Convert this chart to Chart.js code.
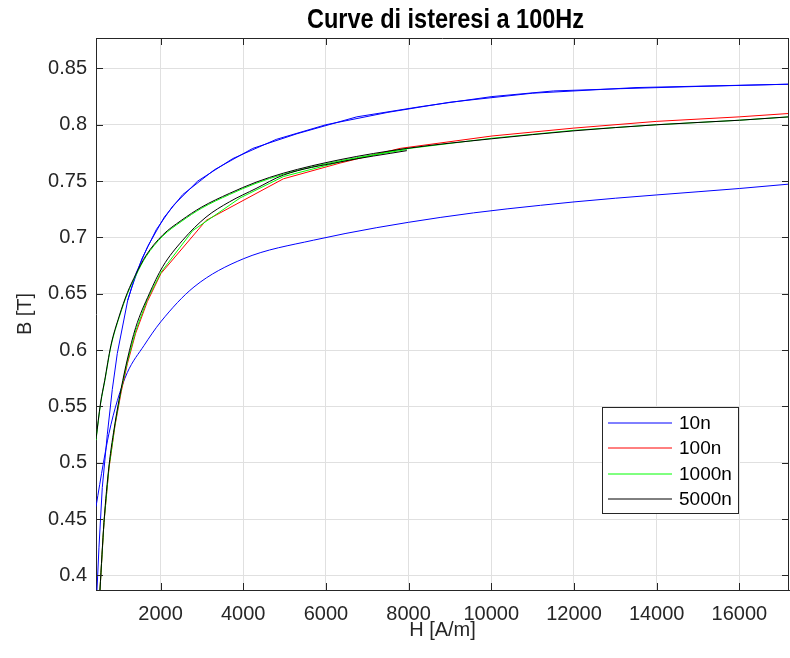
<!DOCTYPE html>
<html>
<head>
<meta charset="utf-8">
<title>Curve di isteresi a 100Hz</title>
<script src="https://cdn.jsdelivr.net/npm/chart.js@4/dist/chart.umd.min.js"></script>
<style>
  html, body { margin: 0; padding: 0; background: #fff; }
  #wrap { width: 790px; height: 658px; }
</style>
</head>
<body>
<div id="wrap"><canvas id="myChart" width="790" height="658"></canvas></div>
<script>
// H [A/m] and B [T], one pair of arrays per curve
var h10Up = [430, 512, 592, 713, 834, 955, 1206, 1407, 1690, 2092, 2537, 3302, 4231, 5300, 6747, 8279, 10014, 11504, 13118, 15000, 17200];
var b10Up = [0.36, 0.425, 0.478, 0.525, 0.565, 0.597, 0.644, 0.668, 0.692, 0.718, 0.738, 0.760, 0.779, 0.792, 0.807, 0.816, 0.825, 0.830, 0.832, 0.834, 0.836];
var h10Up2 = [1206, 1300, 1550, 1900, 2300, 2900, 3750, 4800, 6000, 7500, 9000, 11000, 13500, 17200];
var b10Up2 = [0.644, 0.655, 0.681, 0.707, 0.728, 0.750, 0.770, 0.787, 0.800, 0.811, 0.820, 0.828, 0.833, 0.836];
var h10Lo = [440, 620, 754, 955, 1197, 1601, 2005, 2810, 4003, 5697, 8763, 12000, 14000, 16000, 17200];
var b10Lo = [0.461, 0.500, 0.526, 0.555, 0.580, 0.604, 0.625, 0.656, 0.681, 0.6975, 0.7177, 0.7315, 0.7377, 0.7434, 0.7473];

var h100 = [495, 536, 633, 754, 900, 1050, 1200, 1400, 1681, 2012, 3101, 4971, 6343, 7795, 10014, 11988, 14000, 16000, 17200];
var b100 = [0.36, 0.387, 0.447, 0.495, 0.533, 0.563, 0.588, 0.615, 0.643, 0.668, 0.715, 0.752, 0.766, 0.779, 0.790, 0.797, 0.803, 0.807, 0.810];

var h1000Lo = [495, 536, 633, 754, 900, 1050, 1200, 1400, 1681, 2012, 2779, 3924, 4971, 6343, 7795, 10014, 11988, 14000, 16000, 17200];
var b1000Lo = [0.36, 0.387, 0.447, 0.496, 0.534, 0.565, 0.590, 0.617, 0.645, 0.669, 0.706, 0.735, 0.754, 0.767, 0.778, 0.788, 0.795, 0.800, 0.804, 0.807];
var h1000Up = [440, 550, 650, 800, 1000, 1200, 1400, 1650, 2050, 2500, 3000, 3665, 4311, 4971, 6343, 7957];
var b1000Up = [0.520, 0.552, 0.572, 0.603, 0.629, 0.650, 0.666, 0.683, 0.701, 0.714, 0.726, 0.738, 0.748, 0.756, 0.768, 0.778];

var h5000Up = [440, 550, 650, 800, 1000, 1200, 1400, 1650, 2050, 2500, 3000, 3665, 4311, 4971, 6343, 7957, 10000, 12000, 14000, 16000, 17200];
var b5000Up = [0.521, 0.553, 0.573, 0.604, 0.630, 0.651, 0.667, 0.684, 0.702, 0.715, 0.727, 0.739, 0.749, 0.757, 0.769, 0.779, 0.7875, 0.7946, 0.800, 0.804, 0.807];
var h5000Lo = [495, 536, 633, 754, 900, 1050, 1200, 1400, 1729, 2053, 2537, 3101, 3665, 4311, 4971, 6343, 7957];
var b5000Lo = [0.36, 0.387, 0.447, 0.497, 0.535, 0.566, 0.592, 0.620, 0.650, 0.674, 0.6975, 0.718, 0.7315, 0.7434, 0.7553, 0.767, 0.777];

var xTicks = [2000, 4000, 6000, 8000, 10000, 12000, 14000, 16000];
var yTicks = [0.4, 0.45, 0.5, 0.55, 0.6, 0.65, 0.7, 0.75, 0.8, 0.85];
var legendNames = ["10n", "100n", "1000n", "5000n"];
var legendColors = ["#0000ff", "#ff0000", "#00ff00", "#000000"];
var titleText = "Curve di isteresi a 100Hz";

function pts(h, b) {
    return h.map(function(v, i) { return { x: v, y: b[i] }; });
}

function curve(k, h, b, smooth) {
    return {
        label: legendNames[k],
        data: pts(h, b),
        showLine: true,
        borderColor: legendColors[k],
        backgroundColor: legendColors[k],
        borderWidth: 1,
        pointRadius: 0,
        tension: smooth ? 0.4 : 0,
        cubicInterpolationMode: smooth ? "monotone" : "default",
        order: 4 - k
    };
}

var axisColor = "#262626";
var gridColor = "#e0e0e0";
var fontFam = "'Liberation Sans', Arial, Helvetica, sans-serif";

// title, box, inner ticks and legend drawn like matlab does
var boxPlugin = {
    id: "boxPlugin",
    afterDatasetsDraw: function(chart) {
        var c = chart.ctx, a = chart.chartArea;
        var x = chart.scales.x, y = chart.scales.y;
        c.save();
        c.strokeStyle = axisColor;
        c.lineWidth = 1;
        c.beginPath();
        c.moveTo(a.left, a.top + 0.5); c.lineTo(a.right, a.top + 0.5);
        c.moveTo(a.right - 0.5, a.top); c.lineTo(a.right - 0.5, a.bottom);
        xTicks.forEach(function(v) {
            var p = Math.round(x.getPixelForValue(v)) + 0.5;
            c.moveTo(p, a.bottom); c.lineTo(p, a.bottom - 7);
            c.moveTo(p, a.top); c.lineTo(p, a.top + 7);
        });
        yTicks.forEach(function(v) {
            var p = Math.round(y.getPixelForValue(v)) + 0.5;
            c.moveTo(a.left, p); c.lineTo(a.left + 7, p);
            c.moveTo(a.right, p); c.lineTo(a.right - 7, p);
        });
        c.stroke();

        // legend
        var bx = a.right - 187, by = a.bottom - 183, bw = 136, bh = 106;
        c.fillStyle = "#fff";
        c.fillRect(bx, by, bw, bh);
        c.strokeRect(bx + 0.5, by + 0.5, bw, bh);
        c.font = "19px " + fontFam;
        c.textBaseline = "middle";
        c.textAlign = "left";
        legendNames.forEach(function(name, i) {
            var ry = Math.round(by + 15.5 + i * 25.6);
            c.beginPath();
            c.strokeStyle = legendColors[i];
            c.moveTo(bx + 6, ry); c.lineTo(bx + 70, ry);
            c.stroke();
            c.fillStyle = "#000";
            c.fillText(name, bx + 77, ry + 1);
        });

        // title, squeezed a bit like the narrow helvetica of the original
        c.font = "bold 28px " + fontFam;
        c.fillStyle = "#000";
        c.textAlign = "center";
        c.textBaseline = "alphabetic";
        c.translate((a.left + a.right) / 2 + 3, 28);
        c.scale(0.84, 1);
        c.fillText(titleText, 0, 0);
        c.restore();
    }
};

var ctx = document.getElementById("myChart").getContext("2d");
var chart = new Chart(ctx, {
    type: "scatter",
    data: {
        datasets: [
            curve(0, h10Up, b10Up, false),
            curve(0, h10Up2, b10Up2, false),
            curve(0, h10Lo, b10Lo, true),
            curve(1, h100, b100, false),
            curve(2, h1000Lo, b1000Lo, false),
            curve(2, h1000Up, b1000Up, true),
            curve(3, h5000Up, b5000Up, true),
            curve(3, h5000Lo, b5000Lo, true)
        ]
    },
    options: {
        responsive: false,
        animation: false,
        events: [],
        layout: { padding: { left: 0, right: 1, top: 38, bottom: 0 } },
        plugins: {
            legend: { display: false },
            tooltip: { enabled: false },
            title: { display: false }
        },
        scales: {
            x: {
                type: "linear",
                min: 440,
                max: 17200,
                afterBuildTicks: function(s) { s.ticks = xTicks.map(function(v) { return { value: v }; }); },
                afterFit: function(s) { s.height = 68; },
                ticks: {
                    color: axisColor,
                    padding: 12,
                    maxRotation: 0,
                    autoSkip: false,
                    font: { family: fontFam, size: 20 },
                    callback: function(v) { return String(v); }
                },
                grid: { color: gridColor, drawTicks: false },
                border: { display: true, color: axisColor, width: 1 },
                title: {
                    display: true,
                    text: "H [A/m]",
                    color: axisColor,
                    font: { family: fontFam, size: 20 },
                    padding: { top: 16, bottom: 16 }
                }
            },
            y: {
                type: "linear",
                min: 0.387,
                max: 0.877,
                afterBuildTicks: function(s) { s.ticks = yTicks.map(function(v) { return { value: v }; }); },
                afterFit: function(s) { s.width = 96; },
                ticks: {
                    color: axisColor,
                    padding: 9,
                    autoSkip: false,
                    font: { family: fontFam, size: 20 },
                    callback: function(v) { return String(Math.round(v * 100) / 100); }
                },
                grid: { color: gridColor, drawTicks: false },
                border: { display: true, color: axisColor, width: 1 },
                title: {
                    display: true,
                    text: "B [T]",
                    color: axisColor,
                    font: { family: fontFam, size: 20 },
                    padding: { top: 13, bottom: 13 }
                }
            }
        }
    },
    plugins: [boxPlugin]
});
</script>
</body>
</html>
